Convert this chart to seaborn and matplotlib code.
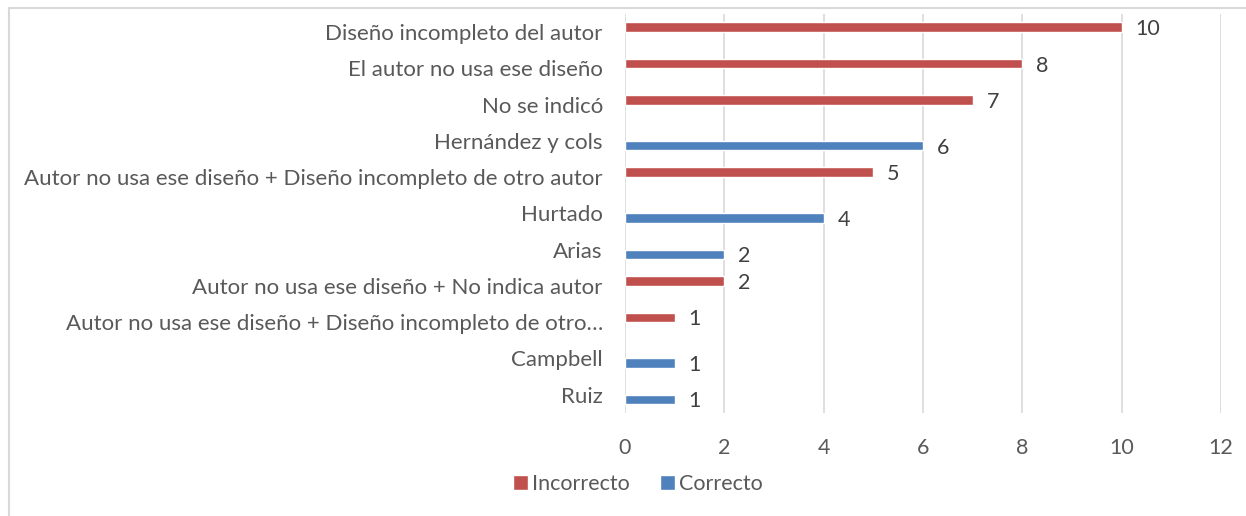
import pandas as pd
import matplotlib.pyplot as plt
import seaborn as sns
from matplotlib.lines import Line2D

# ---------------------------------------------------------
# Data
# ---------------------------------------------------------
categories = [
    "Diseño incompleto del autor",
    "El autor no usa ese diseño",
    "No se indicó",
    "Hernández y cols",
    "Autor no usa ese diseño + Diseño incompleto de otro autor",
    "Hurtado",
    "Arias",
    "Autor no usa ese diseño + No indica autor",
    "Autor no usa ese diseño + Diseño incompleto de otro…",
    "Campbell",
    "Ruiz",
]
values = [10, 8, 7, 6, 5, 4, 2, 2, 1, 1, 1]
series = ["Incorrecto", "Incorrecto", "Incorrecto", "Correcto", "Incorrecto",
          "Correcto", "Correcto", "Incorrecto", "Incorrecto", "Correcto", "Correcto"]
hue_order = ["Incorrecto", "Correcto"]
palette = {"Incorrecto": "#C0504D", "Correcto": "#4F81BD"}
x_ticks = [0, 2, 4, 6, 8, 10, 12]

df = pd.DataFrame({"categoria": categories, "valor": values, "serie": series})

# ---------------------------------------------------------
# Plot
# ---------------------------------------------------------
sns.set_theme(style="white")
plt.rcParams["font.family"] = ["Lato", "DejaVu Sans"]
fs = 15.5

fig = plt.figure(figsize=(12.46, 5.16), dpi=100)
ax = fig.add_axes([0.5016, 0.200, 0.4784, 0.773])

sns.barplot(data=df, x="valor", y="categoria", hue="serie", order=categories,
            hue_order=hue_order, palette=palette, orient="h", width=0.53,
            dodge=True, saturation=1, errorbar=None, ax=ax, legend=True)

for cont in ax.containers:
    labels_ = ax.bar_label(cont, fmt="%g", padding=10, fontsize=fs, color="#404040")
    for t in labels_:
        t.set_va("center_baseline")

ax.set_xlim(0, 12)
ax.set_xticks(x_ticks)
ax.set_xlabel("")
ax.set_ylabel("")
ax.grid(axis="x", color="#D9D9D9", linewidth=1.2)
ax.set_axisbelow(True)
for sp in ax.spines.values():
    sp.set_visible(False)
ax.tick_params(axis="y", length=0, pad=16, labelsize=16, labelcolor="#595959")
ax.tick_params(axis="x", length=0, pad=18, labelsize=fs, labelcolor="#595959")

handles, labels = ax.get_legend_handles_labels()
ax.get_legend().remove()
fig.legend(handles, labels, loc="center", bbox_to_anchor=(0.512, 0.062),
           ncol=2, frameon=False, fontsize=fs, labelcolor="#595959",
           handlelength=0.7, handleheight=0.7, handletextpad=0.2,
           columnspacing=1.4)

# light frame around the chart area (left and top visible)
fig.add_artist(Line2D([8.5 / 1246, 8.5 / 1246, 1.0], [0.0, 1 - 7.5 / 516, 1 - 7.5 / 516],
                      transform=fig.transFigure, color="#D9D9D9", linewidth=1.5))

fig.savefig("out.png", dpi=100)
plt.close(fig)
